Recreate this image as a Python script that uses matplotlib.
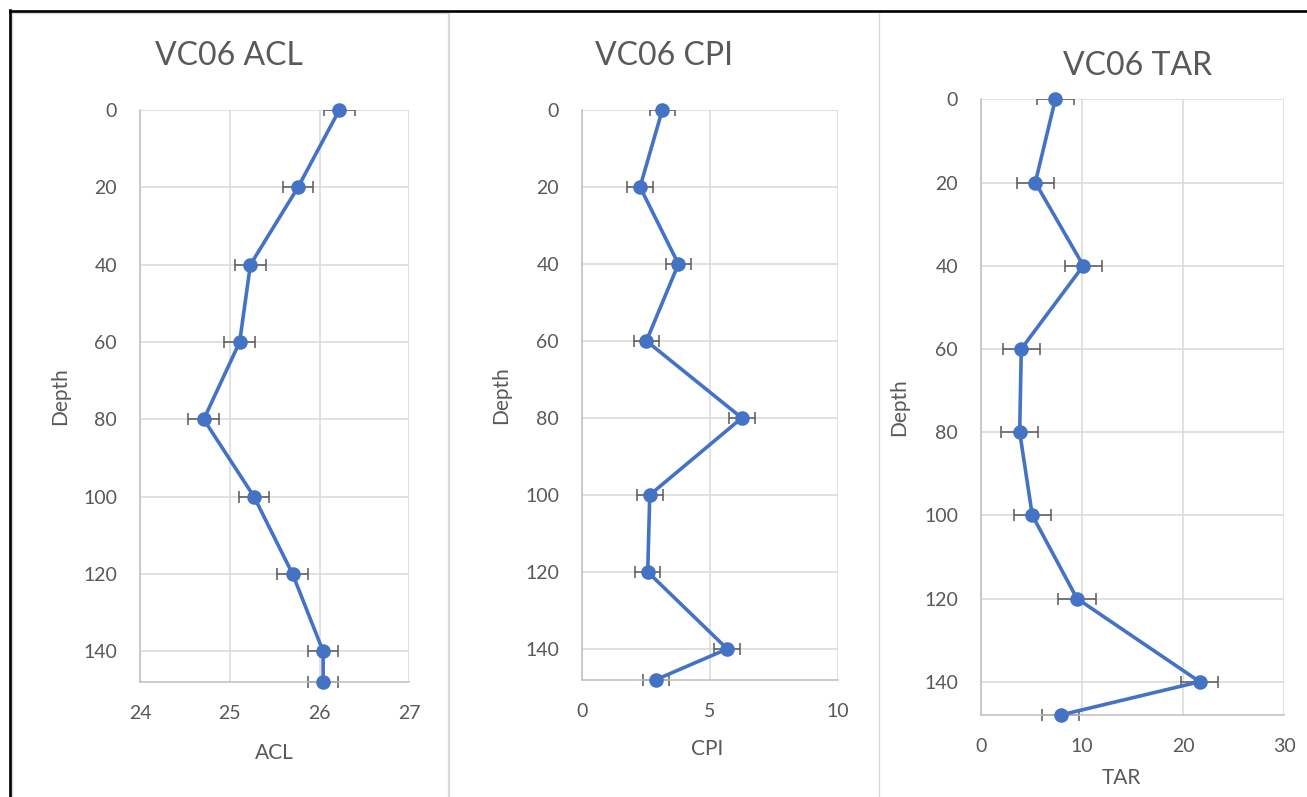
import matplotlib
matplotlib.use("Agg")
import matplotlib.pyplot as plt
from matplotlib.lines import Line2D
from matplotlib.transforms import Bbox, TransformedBbox

plt.rcParams['font.family'] = ['Lato', 'DejaVu Sans']

# Core VC06 sample depths and measured indices
depth = [0, 20, 40, 60, 80, 100, 120, 140, 148]
acl = [26.22, 25.76, 25.23, 25.11, 24.71, 25.27, 25.70, 26.04, 26.04]
cpi = [3.14, 2.27, 3.77, 2.52, 6.25, 2.65, 2.57, 5.68, 2.89]
tar = [7.36, 5.38, 10.13, 3.99, 3.83, 5.08, 9.50, 21.65, 7.89]

acl_err = 0.17
cpi_err = 0.5
tar_err = 1.85

acl_ticks = [24, 25, 26, 27]
cpi_ticks = [0, 5, 10]
tar_ticks = [0, 10, 20, 30]
depth_ticks = [0, 20, 40, 60, 80, 100, 120, 140]

W, H = 1307, 797
TEXT = '#595959'
BLUE = '#4472C4'
GRID = '#d9d9d9'

fig = plt.figure(figsize=(W / 100, H / 100), dpi=100)


def px_rect(l, t, r, b):
    return [l / W, 1 - b / H, (r - l) / W, (b - t) / H]


def fig_line(xs, ys, **kw):
    fig.add_artist(Line2D([x / W for x in xs], [1 - y / H for y in ys],
                          transform=fig.transFigure, **kw))


# chart frames
fig_line([12, 448, 448], [13, 13, H], color=GRID, lw=1)
fig_line([12, 12], [13, H], color=GRID, lw=1)
fig_line([449, 449], [13, H], color=GRID, lw=1)
fig_line([879, 879], [13, H], color=GRID, lw=1)
fig_line([9.5, W], [11, 11], color='black', lw=1.9)
fig_line([9.5, 9.5], [10, H], color='black', lw=1.9)

panels = [
    dict(rect=(140, 110, 409.3, 682.3), x=acl, err=acl_err, xlim=(24, 27),
         ticks=acl_ticks, xlabel='ACL', title='VC06 ACL', tpos=(229, 56),
         xl=(0.5, -0.1235), yl=(-0.297, 0.5)),
    dict(rect=(582, 110, 837.7, 679.7), x=cpi, err=cpi_err, xlim=(0, 10),
         ticks=cpi_ticks, xlabel='CPI', title='VC06 CPI', tpos=(664, 56),
         xl=(0.488, -0.1208), yl=(-0.317, 0.5)),
    dict(rect=(981, 99.3, 1284, 715), x=tar, err=tar_err, xlim=(0, 30),
         ticks=tar_ticks, xlabel='TAR', title='VC06 TAR', tpos=(1138, 66),
         xl=(0.462, -0.1023), yl=(-0.271, 0.5)),
]

for p in panels:
    ax = fig.add_axes(px_rect(*p['rect']))
    eb = ax.errorbar(p['x'], depth, xerr=p['err'], fmt='none', ecolor='#595959',
                     elinewidth=1.1, capsize=4, capthick=1.1, zorder=2)
    clip = TransformedBbox(Bbox([[-0.1, -0.1], [1.1, 1.0]]), ax.transAxes)
    for art in eb.lines[1] + eb.lines[2]:
        art.set_clip_box(clip)
    ax.plot(p['x'], depth, color=BLUE, lw=2.6, marker='o', ms=10.5, mew=0,
            zorder=3, clip_on=False)

    ax.set_xlim(*p['xlim'])
    ax.set_ylim(148, 0)
    ax.set_xticks(p['ticks'])
    ax.set_yticks(depth_ticks)
    ax.grid(True, color=GRID, lw=1.1)
    ax.set_axisbelow(True)
    for side in ('top', 'right'):
        ax.spines[side].set_visible(False)
    for side in ('left', 'bottom'):
        ax.spines[side].set_color('#bfbfbf')
        ax.spines[side].set_linewidth(1.1)
    ax.tick_params(length=0, pad=16.5, labelsize=14, labelcolor=TEXT)

    ax.set_xlabel(p['xlabel'], fontsize=15, color=TEXT)
    ax.xaxis.label.set_va('center')
    ax.xaxis.set_label_coords(*p['xl'])
    ax.set_ylabel('Depth', fontsize=15, color=TEXT)
    ax.yaxis.label.set_va('center')
    ax.yaxis.set_label_coords(*p['yl'])

    fig.text(p['tpos'][0] / W, 1 - p['tpos'][1] / H, p['title'], fontsize=23,
             color=TEXT, ha='center', va='center')

fig.savefig('out.png', dpi=100, facecolor='white')
